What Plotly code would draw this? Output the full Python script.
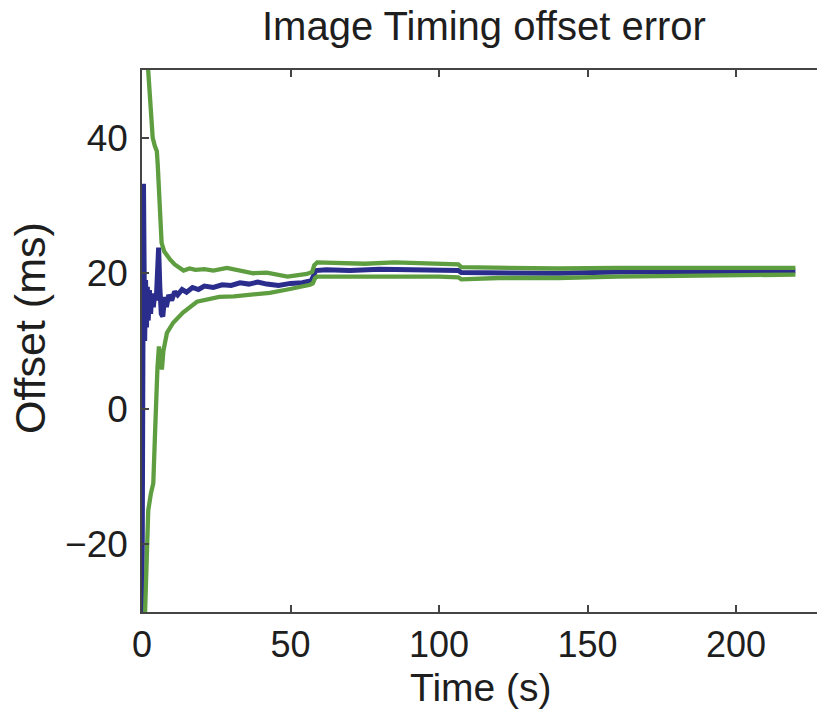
import plotly.graph_objects as go

# Estimated timing offset (ms) and its confidence bounds over time (s)
t_mean = [0.0, 0.5, 0.9, 1.2, 1.5, 1.8, 2.1, 2.5, 2.9, 3.3, 3.8, 4.3, 4.8, 5.2, 5.6,
          6.0, 6.5, 7.0, 7.6, 8.2, 9.0, 10.0, 11.0, 12.0, 13.5, 15.0, 17.0, 19.0,
          21.0, 24.0, 27.0, 30.0, 33.0, 36.0, 39.0, 42.0, 46.0, 50.0, 54.0, 57.0,
          57.8, 58.5, 62.0, 70.0, 80.0, 90.0, 100.0, 106.5, 107.5, 120.0, 140.0,
          160.0, 180.0, 200.0, 220.0]
offset_mean = [-31.0, 33.2, 10.0, 19.0, 12.0, 18.0, 13.0, 17.5, 14.0, 17.0, 15.0,
               17.0, 16.0, 19.0, 23.8, 18.0, 14.0, 13.6, 16.5, 15.0, 16.8, 16.0,
               17.3, 16.8, 17.6, 17.2, 17.9, 17.6, 18.1, 17.9, 18.3, 18.2, 18.6,
               18.4, 18.7, 18.4, 18.2, 18.5, 18.6, 18.9, 19.8, 20.4, 20.5, 20.4,
               20.6, 20.5, 20.5, 20.4, 20.1, 20.1, 20.0, 20.2, 20.2, 20.3, 20.3]

t_upper = [2.0, 2.8, 3.6, 4.3, 4.6, 5.0, 5.3, 5.7, 6.0, 6.3, 6.6, 7.5, 8.5, 9.5,
           11.0, 12.5, 14.0, 16.0, 18.0, 21.0, 24.0, 28.6, 33.0, 37.5, 42.0, 46.0,
           49.0, 52.0, 55.5, 57.3, 58.0, 59.0, 65.0, 75.0, 85.0, 95.0, 106.5,
           107.5, 120.0, 140.0, 160.0, 180.0, 200.0, 220.0]
offset_upper = [50.5, 45.0, 40.0, 38.8, 38.2, 38.0, 36.0, 33.0, 30.8, 27.0, 24.5,
                23.2, 22.5, 22.0, 21.3, 20.8, 20.4, 20.7, 20.5, 20.6, 20.4, 20.8,
                20.4, 20.0, 20.1, 19.7, 19.5, 19.7, 19.9, 20.2, 21.2, 21.6, 21.5,
                21.4, 21.6, 21.4, 21.3, 20.9, 20.8, 20.7, 20.8, 20.8, 20.9, 20.8]

t_lower = [1.0, 1.7, 2.1, 3.0, 3.8, 4.4, 4.7, 5.2, 5.7, 6.2, 6.7, 7.2, 8.4, 10.5,
           13.8, 18.5, 22.0, 26.0, 31.0, 37.0, 43.0, 49.0, 53.0, 56.6, 57.5, 58.3,
           59.0, 70.0, 80.0, 90.0, 100.0, 106.5, 107.5, 120.0, 140.0, 160.0,
           180.0, 200.0, 220.0]
offset_lower = [-30.5, -20.0, -15.0, -12.5, -11.0, -3.5, 1.3, 6.0, 9.2, 7.5, 5.8,
                8.5, 11.2, 12.7, 14.2, 15.8, 16.2, 16.5, 16.6, 16.8, 17.1, 17.6,
                17.9, 18.3, 18.5, 19.3, 19.5, 19.5, 19.6, 19.5, 19.5, 19.4, 19.1,
                19.3, 19.3, 19.5, 19.6, 19.7, 19.8]

x_ticks = [0, 50, 100, 150, 200]
y_ticks = [-20, 0, 20, 40]

BLUE = "#2b2d8c"
GREEN = "#5e9e40"
FONT = "Liberation Sans, Arial, Helvetica, sans-serif"
TEXT = "#1e1e1e"
AXIS = "#444444"

fig = go.Figure()
fig.add_trace(go.Scatter(x=t_mean, y=offset_mean, mode="lines",
                         line=dict(color=BLUE, width=5), showlegend=False))
fig.add_trace(go.Scatter(x=t_upper, y=offset_upper, mode="lines",
                         line=dict(color=GREEN, width=4.3), showlegend=False))
fig.add_trace(go.Scatter(x=t_lower, y=offset_lower, mode="lines",
                         line=dict(color=GREEN, width=4.3), showlegend=False))

fig.update_layout(
    width=817, height=709,
    margin=dict(l=142, r=0, t=70, b=97),
    plot_bgcolor="white", paper_bgcolor="white",
    font=dict(family=FONT, color=TEXT),
    xaxis=dict(range=[0, 227.27], tickvals=x_ticks, ticks="inside", ticklen=7,
               tickwidth=1.5, tickcolor=AXIS, showline=True, linecolor=AXIS,
               linewidth=1.5, mirror="ticks", showgrid=False, zeroline=False,
               tickfont=dict(size=36, color=TEXT, family=FONT),
               ticklabelstandoff=0),
    yaxis=dict(range=[-30, 50], tickvals=y_ticks, ticks="inside", ticklen=7,
               tickwidth=1.5, tickcolor=AXIS, showline=True, linecolor=AXIS,
               linewidth=1.5, mirror=False, showgrid=False, zeroline=False,
               tickfont=dict(size=37, color=TEXT, family=FONT),
               ticklabelstandoff=5),
    annotations=[
        dict(text="Image Timing offset error", xref="paper", yref="paper",
             x=(484 - 142) / 675, y=(612 - 26) / 542, xanchor="center",
             yanchor="middle", showarrow=False,
             font=dict(size=40, color=TEXT, family=FONT)),
        dict(text="Time (s)", xref="paper", yref="paper",
             x=(481 - 142) / 675, y=(612 - 688) / 542, xanchor="center",
             yanchor="middle", showarrow=False,
             font=dict(size=39, color=TEXT, family=FONT)),
        dict(text="Offset (ms)", xref="paper", yref="paper", textangle=-90,
             x=(30 - 142) / 675, y=(612 - 328) / 542, xanchor="center",
             yanchor="middle", showarrow=False,
             font=dict(size=43, color=TEXT, family=FONT)),
    ],
)

fig.write_html("out.html")
